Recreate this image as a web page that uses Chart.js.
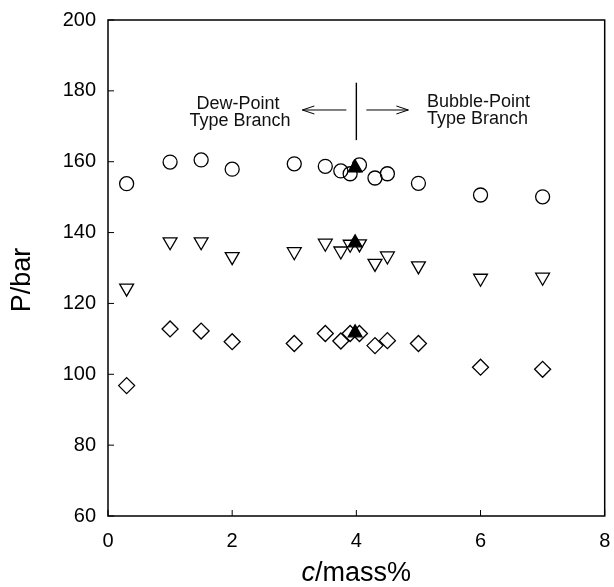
<!DOCTYPE html>
<html>
<head>
<meta charset="utf-8">
<script src="https://cdn.jsdelivr.net/npm/chart.js@4/dist/chart.umd.min.js"></script>
<style>
  html, body { margin: 0; padding: 0; background: #fff; }
  #wrap { width: 614px; height: 587px; }
</style>
</head>
<body>
<div id="wrap"><canvas id="chart" width="614" height="587"></canvas></div>
<script>
// concentration c / mass%
const cCircle = [0.3, 1.0, 1.5, 2.0, 3.0, 3.5, 3.75, 3.9, 4.05, 4.3, 4.5, 5.0, 6.0, 7.0];
const pCircle = [153.8, 159.9, 160.5, 157.9, 159.4, 158.7, 157.4, 156.6, 159.1, 155.4, 156.6, 153.9, 150.6, 150.1];

const cTri = [0.3, 1.0, 1.5, 2.0, 3.0, 3.5, 3.75, 3.9, 4.05, 4.3, 4.5, 5.0, 6.0, 7.0];
const pTri = [124.3, 137.4, 137.4, 133.2, 134.6, 137.0, 134.8, 136.7, 136.8, 131.3, 133.4, 130.6, 127.1, 127.4];

const cDiam = [0.3, 1.0, 1.5, 2.0, 3.0, 3.5, 3.75, 3.9, 4.05, 4.3, 4.5, 5.0, 6.0, 7.0];
const pDiam = [96.8, 112.8, 112.2, 109.2, 108.7, 111.5, 109.4, 111.5, 111.5, 108.1, 109.5, 108.7, 102.0, 101.4];

// filled triangles (branch point)
const cFilled = [3.98, 3.98, 3.98];
const pFilled = [158.3, 137.1, 111.7];

const xTicks = [0, 2, 4, 6, 8];
const yTicks = [60, 80, 100, 120, 140, 160, 180, 200];

const FONT = "'Liberation Sans', Arial, sans-serif";
const pts = (xs, ys) => xs.map((x, i) => ({ x, y: ys[i] }));

// frame, inward ticks, annotation and axis titles
const decor = {
  id: "decor",
  afterDraw(chart) {
    const { ctx, chartArea: a, scales: { x, y } } = chart;
    ctx.save();
    ctx.strokeStyle = "#000";
    ctx.lineWidth = 1.5;
    ctx.strokeRect(a.left, a.top, a.right - a.left, a.bottom - a.top);
    ctx.lineWidth = 1;
    ctx.beginPath();
    xTicks.forEach(v => { const px = x.getPixelForValue(v); ctx.moveTo(px, a.bottom); ctx.lineTo(px, a.bottom - 6); });
    yTicks.forEach(v => { const py = y.getPixelForValue(v); ctx.moveTo(a.left, py); ctx.lineTo(a.left + 6, py); });
    ctx.stroke();

    // branch divider at c = 4
    const vx = x.getPixelForValue(4);
    ctx.lineWidth = 1.4;
    ctx.beginPath();
    ctx.moveTo(vx, y.getPixelForValue(182.3));
    ctx.lineTo(vx, y.getPixelForValue(166.1));
    ctx.stroke();
    const ay = y.getPixelForValue(174.6);
    ctx.lineWidth = 1;
    ctx.beginPath();
    ctx.moveTo(vx - 10, ay); ctx.lineTo(vx - 54, ay);
    ctx.moveTo(vx - 42, ay - 4); ctx.lineTo(vx - 54, ay); ctx.lineTo(vx - 42, ay + 4);
    ctx.moveTo(vx + 10, ay); ctx.lineTo(vx + 52, ay);
    ctx.moveTo(vx + 40, ay - 4); ctx.lineTo(vx + 52, ay); ctx.lineTo(vx + 40, ay + 4);
    ctx.stroke();

    ctx.fillStyle = "#111";
    ctx.font = "18px " + FONT;
    ctx.textBaseline = "middle";
    ctx.textAlign = "center";
    ctx.fillText("Dew-Point", 238, 104);
    ctx.fillText("Type Branch", 240, 121);
    ctx.textAlign = "left";
    ctx.fillText("Bubble-Point", 427, 102);
    ctx.fillText("Type Branch", 427, 119);

    // axis titles
    ctx.fillStyle = "#000";
    ctx.font = "italic 27px " + FONT;
    const w1 = ctx.measureText("c").width;
    ctx.font = "27px " + FONT;
    const w2 = ctx.measureText("/mass%").width;
    const sx = (a.left + a.right) / 2 - (w1 + w2) / 2;
    ctx.textAlign = "left";
    ctx.textBaseline = "alphabetic";
    ctx.font = "italic 27px " + FONT;
    ctx.fillText("c", sx, 581);
    ctx.font = "27px " + FONT;
    ctx.fillText("/mass%", sx + w1, 581);

    ctx.translate(23, 280);
    ctx.rotate(-Math.PI / 2);
    ctx.textAlign = "center";
    ctx.textBaseline = "middle";
    ctx.fillText("P/bar", 0, 0);
    ctx.restore();
  }
};

const base = { showLine: false, borderColor: "#000", backgroundColor: "rgba(0,0,0,0)", pointBorderWidth: 1.3 };

new Chart(document.getElementById("chart"), {
  type: "scatter",
  data: {
    datasets: [
      { ...base, label: "circle", data: pts(cCircle, pCircle), pointStyle: "circle", pointRadius: 7, pointHoverRadius: 7 },
      { ...base, label: "triangle", data: pts(cTri, pTri), pointStyle: "triangle", pointRotation: 180, pointRadius: 8, pointHoverRadius: 8 },
      { ...base, label: "diamond", data: pts(cDiam, pDiam), pointStyle: "rectRot", pointRadius: 8, pointHoverRadius: 8 },
      { ...base, label: "filled", data: pts(cFilled, pFilled), pointStyle: "triangle", pointRadius: 8, pointHoverRadius: 8, backgroundColor: "#000" }
    ]
  },
  options: {
    responsive: false,
    animation: false,
    events: [],
    layout: { padding: { top: 20, right: 7, left: 0, bottom: 0 } },
    plugins: { legend: { display: false }, tooltip: { enabled: false } },
    scales: {
      x: {
        type: "linear", min: 0, max: 8,
        afterBuildTicks: s => { s.ticks = xTicks.map(v => ({ value: v })); },
        afterFit: s => { s.height = 71; s.paddingLeft = 0; s.paddingRight = 0; },
        grid: { display: false, drawTicks: false },
        border: { display: false },
        ticks: { color: "#000", padding: 13, font: { size: 20, family: FONT } }
      },
      y: {
        type: "linear", min: 60, max: 200,
        afterBuildTicks: s => { s.ticks = yTicks.map(v => ({ value: v })); },
        afterFit: s => { s.width = 108; s.paddingTop = 0; s.paddingBottom = 0; },
        grid: { display: false, drawTicks: false },
        border: { display: false },
        ticks: { color: "#000", padding: 12, font: { size: 20, family: FONT } }
      }
    }
  },
  plugins: [decor]
});
</script>
</body>
</html>
